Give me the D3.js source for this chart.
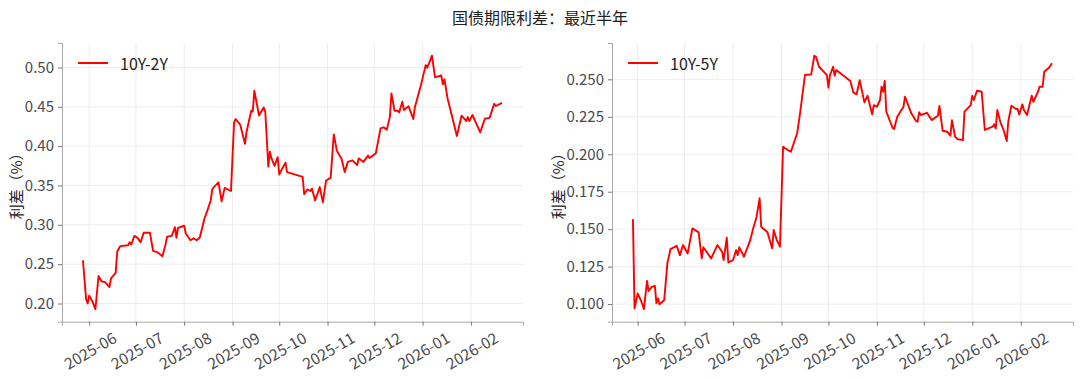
<!DOCTYPE html>
<html>
<head>
<meta charset="utf-8">
<script src="https://cdn.jsdelivr.net/npm/d3@7"></script>
<style>
  body { margin: 0; background: #fff; }
  svg { display: block; font-family: "Noto Sans CJK SC", "Noto Sans", sans-serif; }
</style>
</head>
<body>
<div id="chart"></div>
<script>
// 10Y-2Y spread
var dates2y = ["2025-05-28","2025-05-30","2025-05-31","2025-06-01","2025-06-03","2025-06-05","2025-06-07","2025-06-09","2025-06-11","2025-06-14",
    "2025-06-15","2025-06-18","2025-06-19","2025-06-21","2025-06-26","2025-06-27","2025-06-28","2025-06-30","2025-07-02","2025-07-04",
    "2025-07-06","2025-07-10","2025-07-12","2025-07-15","2025-07-18","2025-07-20","2025-07-21","2025-07-24","2025-07-26","2025-07-27",
    "2025-07-28","2025-08-01","2025-08-02","2025-08-05","2025-08-07","2025-08-09","2025-08-11","2025-08-14","2025-08-16","2025-08-18",
    "2025-08-19","2025-08-20","2025-08-23","2025-08-25","2025-08-27","2025-08-31","2025-09-02","2025-09-03","2025-09-06","2025-09-09",
    "2025-09-10","2025-09-13","2025-09-14","2025-09-15","2025-09-18","2025-09-21","2025-09-22","2025-09-24","2025-09-25","2025-09-26",
    "2025-09-28","2025-09-30","2025-10-01","2025-10-03","2025-10-05","2025-10-06","2025-10-16","2025-10-17","2025-10-19","2025-10-21",
    "2025-10-22","2025-10-24","2025-10-27","2025-10-29","2025-10-31","2025-11-03","2025-11-05","2025-11-07","2025-11-10","2025-11-12",
    "2025-11-14","2025-11-17","2025-11-18","2025-11-20","2025-11-21","2025-11-24","2025-11-27","2025-11-28","2025-12-02","2025-12-05",
    "2025-12-07","2025-12-09","2025-12-11","2025-12-12","2025-12-14","2025-12-16","2025-12-17","2025-12-19","2025-12-20","2025-12-23",
    "2025-12-26","2025-12-27","2025-12-31","2026-01-03","2026-01-04","2026-01-05","2026-01-07","2026-01-09","2026-01-13","2026-01-14",
    "2026-01-15","2026-01-17","2026-01-20","2026-01-23","2026-01-26","2026-01-29","2026-01-30","2026-01-31","2026-02-02","2026-02-06",
    "2026-02-07","2026-02-10","2026-02-13","2026-02-14","2026-02-16","2026-02-17","2026-02-21"];
var values2y = [0.255,0.206,0.200,0.210,0.203,0.193,0.235,0.228,0.2275,0.221,
    0.232,0.239,0.266,0.273,0.274,0.278,0.275,0.286,0.2835,0.278,
    0.290,0.290,0.267,0.265,0.260,0.275,0.285,0.286,0.297,0.2835,
    0.296,0.299,0.289,0.2805,0.283,0.2805,0.284,0.308,0.319,0.331,
    0.345,0.348,0.354,0.330,0.347,0.343,0.430,0.4345,0.427,0.403,
    0.418,0.445,0.444,0.4705,0.439,0.449,0.444,0.374,0.393,0.3845,
    0.375,0.386,0.364,0.372,0.379,0.367,0.361,0.339,0.345,0.343,
    0.346,0.331,0.348,0.3285,0.356,0.360,0.415,0.394,0.384,0.367,
    0.380,0.382,0.380,0.376,0.3845,0.380,0.388,0.385,0.391,0.4226,
    0.424,0.421,0.437,0.467,0.445,0.445,0.443,0.4565,0.446,0.4506,
    0.4345,0.449,0.478,0.503,0.4997,0.5045,0.515,0.4875,0.490,0.4786,
    0.485,0.461,0.437,0.413,0.4387,0.432,0.437,0.432,0.4396,0.422,
    0.4176,0.435,0.436,0.442,0.454,0.451,0.455];

// 10Y-5Y spread
var dates5y = ["2025-05-29","2025-05-30","2025-06-01","2025-06-03","2025-06-05","2025-06-07","2025-06-08","2025-06-10","2025-06-12","2025-06-13",
    "2025-06-14","2025-06-15","2025-06-18","2025-06-20","2025-06-22","2025-06-26","2025-06-28","2025-06-30","2025-07-03","2025-07-06",
    "2025-07-10","2025-07-12","2025-07-13","2025-07-18","2025-07-22","2025-07-25","2025-07-26","2025-07-28","2025-07-29","2025-08-01",
    "2025-08-03","2025-08-04","2025-08-05","2025-08-08","2025-08-12","2025-08-14","2025-08-16","2025-08-18","2025-08-19","2025-08-23",
    "2025-08-26","2025-08-27","2025-08-29","2025-08-31","2025-09-02","2025-09-05","2025-09-07","2025-09-11","2025-09-13","2025-09-16",
    "2025-09-20","2025-09-22","2025-09-23","2025-09-25","2025-09-29","2025-09-30","2025-10-01","2025-10-02","2025-10-04","2025-10-05",
    "2025-10-06","2025-10-15","2025-10-17","2025-10-19","2025-10-21","2025-10-24","2025-10-26","2025-10-29","2025-10-30","2025-11-01",
    "2025-11-03","2025-11-04","2025-11-05","2025-11-06","2025-11-07","2025-11-11","2025-11-12","2025-11-14","2025-11-18","2025-11-19",
    "2025-11-21","2025-11-23","2025-11-26","2025-11-27","2025-11-28","2025-11-29","2025-12-02","2025-12-03","2025-12-06","2025-12-10",
    "2025-12-11","2025-12-13","2025-12-16","2025-12-18","2025-12-19","2025-12-21","2025-12-23","2025-12-26","2025-12-27","2025-12-31",
    "2026-01-01","2026-01-02","2026-01-04","2026-01-07","2026-01-09","2026-01-14","2026-01-15","2026-01-16","2026-01-17","2026-01-19",
    "2026-01-21","2026-01-23","2026-01-24","2026-01-26","2026-01-29","2026-01-30","2026-01-31","2026-02-02","2026-02-03","2026-02-05",
    "2026-02-08","2026-02-09","2026-02-12","2026-02-13","2026-02-15","2026-02-16","2026-02-19","2026-02-21"];
var values5y = [0.1567,0.0971,0.1071,0.1027,0.0967,0.1154,0.1087,0.1115,0.1122,0.1005,
    0.1038,0.0998,0.1027,0.1272,0.1367,0.1389,0.1327,0.1394,0.1338,0.1505,
    0.1479,0.1305,0.1379,0.1305,0.1394,0.1349,0.1294,0.1443,0.1278,0.1294,
    0.1360,0.1327,0.1379,0.1316,0.1427,0.1509,0.1579,0.1706,0.1516,0.1479,
    0.1372,0.1494,0.1427,0.1383,0.2050,0.2028,0.2017,0.2140,0.2284,0.2529,
    0.2533,0.2658,0.2651,0.2584,0.2540,0.2529,0.2444,0.2529,0.2584,0.2524,
    0.2562,0.2489,0.2411,0.2400,0.2495,0.2346,0.2391,0.2266,0.2328,0.2317,
    0.2362,0.2451,0.2417,0.2489,0.2284,0.2177,0.2168,0.2250,0.2317,0.2384,
    0.2328,0.2273,0.2222,0.2217,0.2280,0.2262,0.2273,0.2277,0.2228,0.2257,
    0.2322,0.2157,0.2150,0.2124,0.2228,0.2117,0.2099,0.2095,0.2284,0.2328,
    0.2391,0.2362,0.2424,0.2417,0.2162,0.2184,0.2200,0.2173,0.2295,0.2213,
    0.2162,0.2088,0.2217,0.2324,0.2302,0.2302,0.2266,0.2333,0.2295,0.2262,
    0.2391,0.2350,0.2417,0.2451,0.2451,0.2551,0.2577,0.2607];

var yTicks2y = [0.20, 0.25, 0.30, 0.35, 0.40, 0.45, 0.50];
var yTicks5y = [0.100, 0.125, 0.150, 0.175, 0.200, 0.225, 0.250];
var monthTicks = ["2025-06-01","2025-07-01","2025-08-01","2025-09-01","2025-10-01","2025-11-01","2025-12-01","2026-01-01","2026-02-01"];

var W = 1080, H = 379;
var plotTop = 43, plotBottom = 321.7;
var parseDate = d3.timeParse("%Y-%m-%d");
var gridColor = "#e8e8e8", spineColor = "#a8a8a8", textColor = "#4a4a4a";
var font = "'Noto Sans CJK SC', 'Noto Sans', sans-serif";

var svg = d3.select("#chart").append("svg")
    .attr("width", W)
    .attr("height", H);

svg.append("text")
    .attr("x", W / 2)
    .attr("y", 17)
    .attr("text-anchor", "middle")
    .attr("dominant-baseline", "central")
    .style("font-size", "16px")
    .style("fill", "#222")
    .text("国债期限利差：最近半年");

var panels = [
    {left: 62, right: 523, labelOff: 47, dates: dates2y, values: values2y, ticks: yTicks2y, fmt: ".2f", name: "10Y-2Y"},
    {left: 612, right: 1073, labelOff: 55, dates: dates5y, values: values5y, ticks: yTicks5y, fmt: ".3f", name: "10Y-5Y"}
];

panels.forEach(function(p){
    var data = p.dates.map(function(d, i){ return {date: parseDate(d), value: p.values[i]}; });

    // matplotlib style 5% margins
    var xExt = d3.extent(data, function(d){ return +d.date; });
    var xPad = (xExt[1] - xExt[0]) * 0.05;
    var x = d3.scaleTime()
        .domain([new Date(xExt[0] - xPad), new Date(xExt[1] + xPad)])
        .range([p.left, p.right]);

    var yExt = d3.extent(data, function(d){ return d.value; });
    var yPad = (yExt[1] - yExt[0]) * 0.05;
    var y = d3.scaleLinear()
        .domain([yExt[0] - yPad, yExt[1] + yPad])
        .range([plotBottom, plotTop]);

    var ticksX = monthTicks.map(parseDate);

    var g = svg.append("g");

    // grid
    g.selectAll(".gx").data(ticksX).enter().append("line")
        .attr("x1", function(d){ return x(d); })
        .attr("x2", function(d){ return x(d); })
        .attr("y1", plotTop).attr("y2", plotBottom)
        .style("stroke", gridColor).style("stroke-width", 0.8);
    g.selectAll(".gy").data(p.ticks).enter().append("line")
        .attr("x1", p.left).attr("x2", p.right)
        .attr("y1", function(d){ return y(d); })
        .attr("y2", function(d){ return y(d); })
        .style("stroke", gridColor).style("stroke-width", 0.8);

    // axes
    var xAxis = g.append("g")
        .attr("transform", "translate(0," + plotBottom + ")")
        .call(d3.axisBottom(x).tickValues(ticksX).tickSize(4).tickFormat(d3.timeFormat("%Y-%m")));
    xAxis.select(".domain").attr("stroke", spineColor);
    xAxis.selectAll(".tick line").attr("stroke", "#777");
    xAxis.selectAll(".tick text")
        .attr("y", 0).attr("dy", null)
        .attr("transform", "translate(0,28) rotate(-30)")
        .attr("text-anchor", "middle")
        .attr("dominant-baseline", "central")
        .style("font-size", "15.5px")
        .style("fill", textColor)
        .style("font-family", font);

    var yAxis = g.append("g")
        .attr("transform", "translate(" + p.left + ",0)")
        .call(d3.axisLeft(y).tickValues(p.ticks).tickSize(4).tickPadding(4).tickFormat(d3.format(p.fmt)));
    yAxis.select(".domain").attr("stroke", spineColor);
    yAxis.selectAll(".tick line").attr("stroke", "#777");
    yAxis.selectAll(".tick text")
        .style("font-size", "15px")
        .style("fill", textColor)
        .style("font-family", font);

    g.append("text")
        .attr("transform", "translate(" + (p.left - p.labelOff) + "," + ((plotTop + plotBottom) / 2) + ") rotate(-90)")
        .attr("text-anchor", "middle")
        .attr("dominant-baseline", "central")
        .style("font-size", "15px")
        .style("fill", "#222")
        .text("利差（%）");

    var line = d3.line()
        .x(function(d){ return x(d.date); })
        .y(function(d){ return y(d.value); });

    g.append("path")
        .datum(data)
        .attr("d", line)
        .style("fill", "none")
        .style("stroke", "#ff0000")
        .style("stroke-width", 1.9)
        .style("stroke-linejoin", "round");

    // legend
    g.append("line")
        .attr("x1", p.left + 16).attr("x2", p.left + 46)
        .attr("y1", 63).attr("y2", 63)
        .style("stroke", "#ff0000").style("stroke-width", 2);
    g.append("text")
        .attr("x", p.left + 58).attr("y", 63)
        .attr("dominant-baseline", "central")
        .style("font-size", "16px")
        .style("fill", "#222")
        .text(p.name);
});
</script>
</body>
</html>
